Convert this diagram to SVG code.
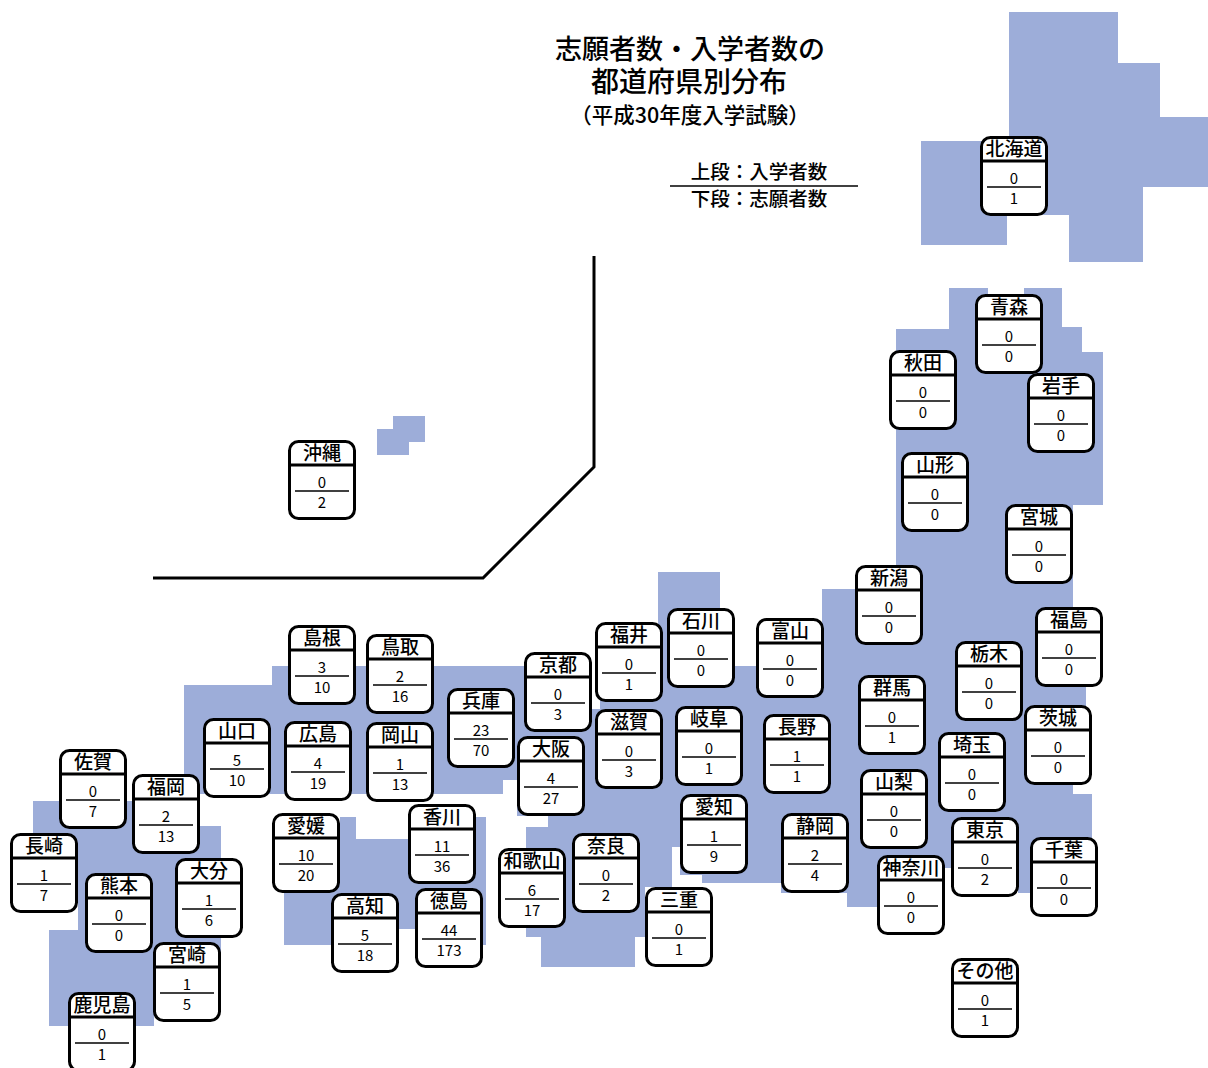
<svg xmlns="http://www.w3.org/2000/svg" xmlns:xlink="http://www.w3.org/1999/xlink" width="1208" height="1068" viewBox="0 0 1208 1068">
<style>
.land{fill:#9dadd9}
.box{fill:#fff;stroke:#000;stroke-width:3}
.hl{stroke:#000;stroke-width:3}
.dv{stroke:#000;stroke-width:1.3}
.nm{font-family:"Noto Sans CJK JP","Noto Sans",sans-serif;font-size:19px;font-weight:500;text-anchor:middle;fill:#000}
.num{font-family:"Noto Sans CJK JP","Noto Sans",sans-serif;font-size:15px;text-anchor:middle;fill:#000}
.ttl{font-family:"Noto Sans CJK JP","Noto Sans",sans-serif;font-weight:500;text-anchor:middle;fill:#000}
.sep{fill:none;stroke:#000;stroke-width:3}
</style>
<defs>
<g id="frame">
<rect class="box" x="1.5" y="1.5" width="65" height="77" rx="9"/>
<line class="hl" x1="1.5" y1="25" x2="66.5" y2="25"/>
<line class="dv" x1="7" y1="51" x2="61" y2="51"/>
</g>
</defs>
<rect width="1208" height="1068" fill="#fff"/>
<g id="map">
<path class="land" d="M1009,12 L1118,12 L1118,63 L1160,63 L1160,117 L1208,117 L1208,187 L1143,187 L1143,262 L1069,262 L1069,215 L1007,215 L1007,245 L921,245 L921,141 L1009,141 Z"/>
<path class="land" d="M949,288 L988,288 L988,300 L1024,300 L1024,288 L1062,288 L1062,327 L1082,327 L1082,352 L1103,352 L1103,505 L1073,505 L1073,640 L1086,640 L1086,740 L1073,740 L1073,794 L1092,794 L1092,893 L1018,893 L1018,868 L945,868 L945,880 L900,880 L900,907 L847,907 L847,893 L781,893 L781,883 L702,883 L702,875 L680,875 L680,847 L672,847 L672,887 L645,887 L645,937 L635,937 L635,967 L541,967 L541,937 L526,937 L526,827 L548,827 L548,816 L517,816 L517,780 L503,780 L503,794 L184,794 L184,685 L272,685 L272,666 L560,666 L560,709 L600,709 L600,700 L658,700 L658,572 L720,572 L720,666 L822,666 L822,589 L896,589 L896,329 L949,329 Z"/>
<path class="land" d="M340,817 L356,817 L356,839 L476,839 L476,817 L486,817 L486,945 L450,945 L450,929 L370,929 L370,945 L284,945 L284,850 L340,850 Z"/>
<path class="land" d="M33,801 L140,801 L140,826 L221,826 L221,1000 L154,1000 L154,1026 L49,1026 L49,930 L78,930 L78,900 L33,900 Z"/>
<rect class="land" x="393" y="416" width="32" height="26"/>
<rect class="land" x="377" y="429" width="32" height="26"/>
</g>
<g id="okinawa-border">
<path class="sep" d="M594,256 L594,467 L483,578 L153,578"/>
</g>
<g id="connectors"/>
<g id="title">
<text class="ttl" x="690" y="59" font-size="27">志願者数・入学者数の</text>
<text class="ttl" x="689" y="92" font-size="28">都道府県別分布</text>
<text class="ttl" x="690" y="123" font-size="21.5">（平成30年度入学試験）</text>
</g>
<g id="legend">
<text class="ttl" x="759" y="179" font-size="19.5">上段：入学者数</text>
<line x1="670" y1="186" x2="858" y2="186" stroke="#000" stroke-width="1.5"/>
<text class="ttl" x="759" y="206" font-size="19.5">下段：志願者数</text>
</g>
<g id="n-hokkaido" transform="translate(980,136)"><use xlink:href="#frame"/><text class="nm" x="34" y="20">北海道</text><text class="num" x="34" y="48">0</text><text class="num" x="34" y="68">1</text></g>
<g id="n-aomori" transform="translate(975,294)"><use xlink:href="#frame"/><text class="nm" x="34" y="20">青森</text><text class="num" x="34" y="48">0</text><text class="num" x="34" y="68">0</text></g>
<g id="n-akita" transform="translate(889,350)"><use xlink:href="#frame"/><text class="nm" x="34" y="20">秋田</text><text class="num" x="34" y="48">0</text><text class="num" x="34" y="68">0</text></g>
<g id="n-iwate" transform="translate(1027,373)"><use xlink:href="#frame"/><text class="nm" x="34" y="20">岩手</text><text class="num" x="34" y="48">0</text><text class="num" x="34" y="68">0</text></g>
<g id="n-yamagata" transform="translate(901,452)"><use xlink:href="#frame"/><text class="nm" x="34" y="20">山形</text><text class="num" x="34" y="48">0</text><text class="num" x="34" y="68">0</text></g>
<g id="n-miyagi" transform="translate(1005,504)"><use xlink:href="#frame"/><text class="nm" x="34" y="20">宮城</text><text class="num" x="34" y="48">0</text><text class="num" x="34" y="68">0</text></g>
<g id="n-niigata" transform="translate(855,565)"><use xlink:href="#frame"/><text class="nm" x="34" y="20">新潟</text><text class="num" x="34" y="48">0</text><text class="num" x="34" y="68">0</text></g>
<g id="n-fukushima" transform="translate(1035,607)"><use xlink:href="#frame"/><text class="nm" x="34" y="20">福島</text><text class="num" x="34" y="48">0</text><text class="num" x="34" y="68">0</text></g>
<g id="n-tochigi" transform="translate(955,641)"><use xlink:href="#frame"/><text class="nm" x="34" y="20">栃木</text><text class="num" x="34" y="48">0</text><text class="num" x="34" y="68">0</text></g>
<g id="n-gunma" transform="translate(858,675)"><use xlink:href="#frame"/><text class="nm" x="34" y="20">群馬</text><text class="num" x="34" y="48">0</text><text class="num" x="34" y="68">1</text></g>
<g id="n-ibaraki" transform="translate(1024,705)"><use xlink:href="#frame"/><text class="nm" x="34" y="20">茨城</text><text class="num" x="34" y="48">0</text><text class="num" x="34" y="68">0</text></g>
<g id="n-saitama" transform="translate(938,732)"><use xlink:href="#frame"/><text class="nm" x="34" y="20">埼玉</text><text class="num" x="34" y="48">0</text><text class="num" x="34" y="68">0</text></g>
<g id="n-yamanashi" transform="translate(860,769)"><use xlink:href="#frame"/><text class="nm" x="34" y="20">山梨</text><text class="num" x="34" y="48">0</text><text class="num" x="34" y="68">0</text></g>
<g id="n-tokyo" transform="translate(951,817)"><use xlink:href="#frame"/><text class="nm" x="34" y="20">東京</text><text class="num" x="34" y="48">0</text><text class="num" x="34" y="68">2</text></g>
<g id="n-chiba" transform="translate(1030,837)"><use xlink:href="#frame"/><text class="nm" x="34" y="20">千葉</text><text class="num" x="34" y="48">0</text><text class="num" x="34" y="68">0</text></g>
<g id="n-kanagawa" transform="translate(877,855)"><use xlink:href="#frame"/><text class="nm" x="34" y="20">神奈川</text><text class="num" x="34" y="48">0</text><text class="num" x="34" y="68">0</text></g>
<g id="n-shizuoka" transform="translate(781,813)"><use xlink:href="#frame"/><text class="nm" x="34" y="20">静岡</text><text class="num" x="34" y="48">2</text><text class="num" x="34" y="68">4</text></g>
<g id="n-nagano" transform="translate(763,714)"><use xlink:href="#frame"/><text class="nm" x="34" y="20">長野</text><text class="num" x="34" y="48">1</text><text class="num" x="34" y="68">1</text></g>
<g id="n-toyama" transform="translate(756,618)"><use xlink:href="#frame"/><text class="nm" x="34" y="20">富山</text><text class="num" x="34" y="48">0</text><text class="num" x="34" y="68">0</text></g>
<g id="n-ishikawa" transform="translate(667,608)"><use xlink:href="#frame"/><text class="nm" x="34" y="20">石川</text><text class="num" x="34" y="48">0</text><text class="num" x="34" y="68">0</text></g>
<g id="n-fukui" transform="translate(595,622)"><use xlink:href="#frame"/><text class="nm" x="34" y="20">福井</text><text class="num" x="34" y="48">0</text><text class="num" x="34" y="68">1</text></g>
<g id="n-shiga" transform="translate(595,709)"><use xlink:href="#frame"/><text class="nm" x="34" y="20">滋賀</text><text class="num" x="34" y="48">0</text><text class="num" x="34" y="68">3</text></g>
<g id="n-gifu" transform="translate(675,706)"><use xlink:href="#frame"/><text class="nm" x="34" y="20">岐阜</text><text class="num" x="34" y="48">0</text><text class="num" x="34" y="68">1</text></g>
<g id="n-aichi" transform="translate(680,794)"><use xlink:href="#frame"/><text class="nm" x="34" y="20">愛知</text><text class="num" x="34" y="48">1</text><text class="num" x="34" y="68">9</text></g>
<g id="n-nara" transform="translate(572,833)"><use xlink:href="#frame"/><text class="nm" x="34" y="20">奈良</text><text class="num" x="34" y="48">0</text><text class="num" x="34" y="68">2</text></g>
<g id="n-mie" transform="translate(645,887)"><use xlink:href="#frame"/><text class="nm" x="34" y="20">三重</text><text class="num" x="34" y="48">0</text><text class="num" x="34" y="68">1</text></g>
<g id="n-kyoto" transform="translate(524,652)"><use xlink:href="#frame"/><text class="nm" x="34" y="20">京都</text><text class="num" x="34" y="48">0</text><text class="num" x="34" y="68">3</text></g>
<g id="n-osaka" transform="translate(517,736)"><use xlink:href="#frame"/><text class="nm" x="34" y="20">大阪</text><text class="num" x="34" y="48">4</text><text class="num" x="34" y="68">27</text></g>
<g id="n-hyogo" transform="translate(447,688)"><use xlink:href="#frame"/><text class="nm" x="34" y="20">兵庫</text><text class="num" x="34" y="48">23</text><text class="num" x="34" y="68">70</text></g>
<g id="n-wakayama" transform="translate(498,848)"><use xlink:href="#frame"/><text class="nm" x="34" y="20">和歌山</text><text class="num" x="34" y="48">6</text><text class="num" x="34" y="68">17</text></g>
<g id="n-kagawa" transform="translate(408,804)"><use xlink:href="#frame"/><text class="nm" x="34" y="20">香川</text><text class="num" x="34" y="48">11</text><text class="num" x="34" y="68">36</text></g>
<g id="n-tokushima" transform="translate(415,888)"><use xlink:href="#frame"/><text class="nm" x="34" y="20">徳島</text><text class="num" x="34" y="48">44</text><text class="num" x="34" y="68">173</text></g>
<g id="n-tottori" transform="translate(366,634)"><use xlink:href="#frame"/><text class="nm" x="34" y="20">鳥取</text><text class="num" x="34" y="48">2</text><text class="num" x="34" y="68">16</text></g>
<g id="n-okayama" transform="translate(366,722)"><use xlink:href="#frame"/><text class="nm" x="34" y="20">岡山</text><text class="num" x="34" y="48">1</text><text class="num" x="34" y="68">13</text></g>
<g id="n-shimane" transform="translate(288,625)"><use xlink:href="#frame"/><text class="nm" x="34" y="20">島根</text><text class="num" x="34" y="48">3</text><text class="num" x="34" y="68">10</text></g>
<g id="n-hiroshima" transform="translate(284,721)"><use xlink:href="#frame"/><text class="nm" x="34" y="20">広島</text><text class="num" x="34" y="48">4</text><text class="num" x="34" y="68">19</text></g>
<g id="n-yamaguchi" transform="translate(203,718)"><use xlink:href="#frame"/><text class="nm" x="34" y="20">山口</text><text class="num" x="34" y="48">5</text><text class="num" x="34" y="68">10</text></g>
<g id="n-ehime" transform="translate(272,813)"><use xlink:href="#frame"/><text class="nm" x="34" y="20">愛媛</text><text class="num" x="34" y="48">10</text><text class="num" x="34" y="68">20</text></g>
<g id="n-kochi" transform="translate(331,893)"><use xlink:href="#frame"/><text class="nm" x="34" y="20">高知</text><text class="num" x="34" y="48">5</text><text class="num" x="34" y="68">18</text></g>
<g id="n-oita" transform="translate(175,858)"><use xlink:href="#frame"/><text class="nm" x="34" y="20">大分</text><text class="num" x="34" y="48">1</text><text class="num" x="34" y="68">6</text></g>
<g id="n-miyazaki" transform="translate(153,942)"><use xlink:href="#frame"/><text class="nm" x="34" y="20">宮崎</text><text class="num" x="34" y="48">1</text><text class="num" x="34" y="68">5</text></g>
<g id="n-saga" transform="translate(59,749)"><use xlink:href="#frame"/><text class="nm" x="34" y="20">佐賀</text><text class="num" x="34" y="48">0</text><text class="num" x="34" y="68">7</text></g>
<g id="n-fukuoka" transform="translate(132,774)"><use xlink:href="#frame"/><text class="nm" x="34" y="20">福岡</text><text class="num" x="34" y="48">2</text><text class="num" x="34" y="68">13</text></g>
<g id="n-nagasaki" transform="translate(10,833)"><use xlink:href="#frame"/><text class="nm" x="34" y="20">長崎</text><text class="num" x="34" y="48">1</text><text class="num" x="34" y="68">7</text></g>
<g id="n-kumamoto" transform="translate(85,873)"><use xlink:href="#frame"/><text class="nm" x="34" y="20">熊本</text><text class="num" x="34" y="48">0</text><text class="num" x="34" y="68">0</text></g>
<g id="n-kagoshima" transform="translate(68,992)"><use xlink:href="#frame"/><text class="nm" x="34" y="20">鹿児島</text><text class="num" x="34" y="48">0</text><text class="num" x="34" y="68">1</text></g>
<g id="n-okinawa" transform="translate(288,440)"><use xlink:href="#frame"/><text class="nm" x="34" y="20">沖縄</text><text class="num" x="34" y="48">0</text><text class="num" x="34" y="68">2</text></g>
<g id="n-other" transform="translate(951,958)"><use xlink:href="#frame"/><text class="nm" x="34" y="20">その他</text><text class="num" x="34" y="48">0</text><text class="num" x="34" y="68">1</text></g>
</svg>
